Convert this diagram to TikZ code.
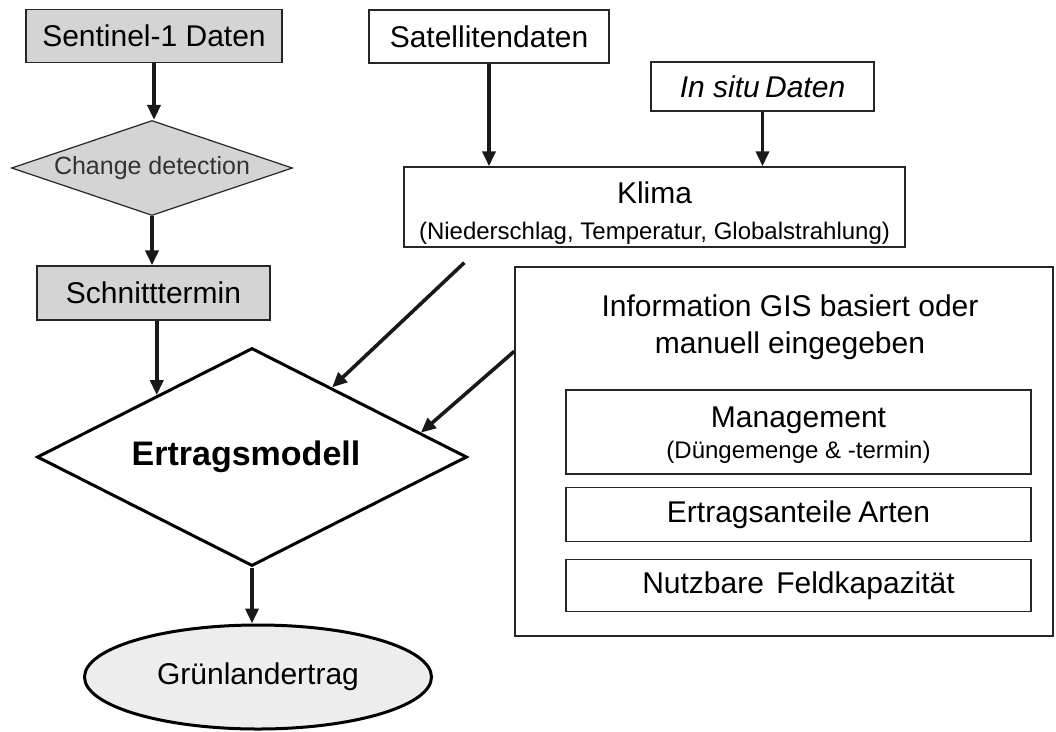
\documentclass[tikz,border=0pt]{standalone}
\usepackage{fontspec}
\setmainfont{Liberation Sans}
\usepackage{tikz}
\usetikzlibrary{positioning}
\usetikzlibrary{shapes.geometric}
\usetikzlibrary{arrows.meta}
\usetikzlibrary{calc}
\usepackage{xcolor}

\newcommand{\gr}[2]{\fontsize{#1}{#2}\selectfont}

\begin{document}
\begin{tikzpicture}[x=1pt, y=-1pt,
  kasten/.style={draw=black!85, line width=1.4pt, inner sep=0pt, align=center},
  grau/.style={fill=black!17},
  raute/.style={diamond, draw=black!85, inner sep=0pt, align=center},
  pfeil/.style={-{Triangle[length=15pt,width=13pt]}, line width=3.6pt, draw=black!90}
]

\useasboundingbox (0,0) rectangle (1056,731);

% linke Spalte
{
\node[kasten, grau, minimum width=256pt, minimum height=53pt, font=\gr{30}{34}] (sentinel) at (154,36) {Sentinel-1 Daten};

\node[raute, grau, line width=1.2pt, aspect=3, minimum width=281pt, minimum height=95pt, font=\gr{25}{30}, text=black!80] (change) at (152,168) {Change detection};

\node[kasten, grau, minimum width=233pt, minimum height=54pt, font=\gr{30}{34}] (schnitt) at (153.5,293) {Schnitttermin};

\node[raute, line width=3pt, draw=black, aspect=2, minimum width=430pt, minimum height=218pt, font=\bfseries\gr{34}{38}] (ertrag) at (252,457) {Ertragsmodell\hspace{12pt}};

\node[ellipse, draw=black, line width=3pt, fill=black!7, minimum width=347pt, minimum height=104pt, inner sep=0pt, font=\gr{30}{34}] (gruen) at (258,677) {Grünlandertrag};
}

% Klimadaten
{
\node[kasten, minimum width=240pt, minimum height=53pt, font=\gr{30}{34}] (sat) at (489,36.5) {Satellitendaten};

\node[kasten, minimum width=223pt, minimum height=49pt, font=\itshape\gr{30}{34}] (insitu) at (762.5,86.5) {In situ\hspace{-3pt} Daten};

\node[kasten, minimum width=501pt, minimum height=80pt, font=\gr{30}{36}] (klima) at (654.5,207)
{\rule{0pt}{33pt}Klima\\{\gr{24}{36}(Niederschlag, Temperatur, Globalstrahlung)}};
}

% Information GIS
{
\node[kasten, minimum width=538pt, minimum height=369pt] (info) at (784,451.5) {};

\node[align=center, inner sep=0pt, font=\gr{30}{37}] (infotitel) at (790,327)
{Information GIS basiert oder\\manuell eingegeben};

\node[kasten, minimum width=465pt, minimum height=84pt, font=\gr{30}{31}] (mgmt) at (798.5,432)
{\rule{0pt}{26pt}Management\\{\gr{24}{31}(Düngemenge \& -termin)}};

\node[kasten, minimum width=465pt, minimum height=54pt, font=\gr{30}{34}] (anteile) at (798.5,514.5) {Ertragsanteile\hspace{-2pt} Arten};

\node[kasten, minimum width=465pt, minimum height=52pt, font=\gr{30}{34}] (nfk) at (798.5,585.5) {Nutzbare\hspace{4pt} Feldkapazität};
}

% Punkte am Rand
\coordinate (ein1) at ($(ertrag.west)!0.56!(ertrag.north)$);
\coordinate (ein2) at ($(ertrag.north)!0.37!(ertrag.east)$);
\coordinate (ein3) at ($(ertrag.north)!0.78!(ertrag.east)$);
\coordinate (klimafuss) at ($(klima.south west)+(61,15)$);
\coordinate (infoaus) at ($(info.north west)+(0,85)$);

% Pfeile
\draw[pfeil] (sentinel.south) -- (sentinel.south |- change.north);
\draw[pfeil] (change.south) -- (change.south |- schnitt.north);
\draw[pfeil] (ein1 |- schnitt.south) -- (ein1);
\draw[pfeil] (ertrag.south) -- (ertrag.south |- gruen.north);

\draw[pfeil] (sat.south) -- (sat.south |- klima.north);
\draw[pfeil] (insitu.south) -- (insitu.south |- klima.north);

\draw[pfeil] (klimafuss) -- (ein2);
\draw[pfeil] (infoaus) -- (ein3);

\end{tikzpicture}
\end{document}
